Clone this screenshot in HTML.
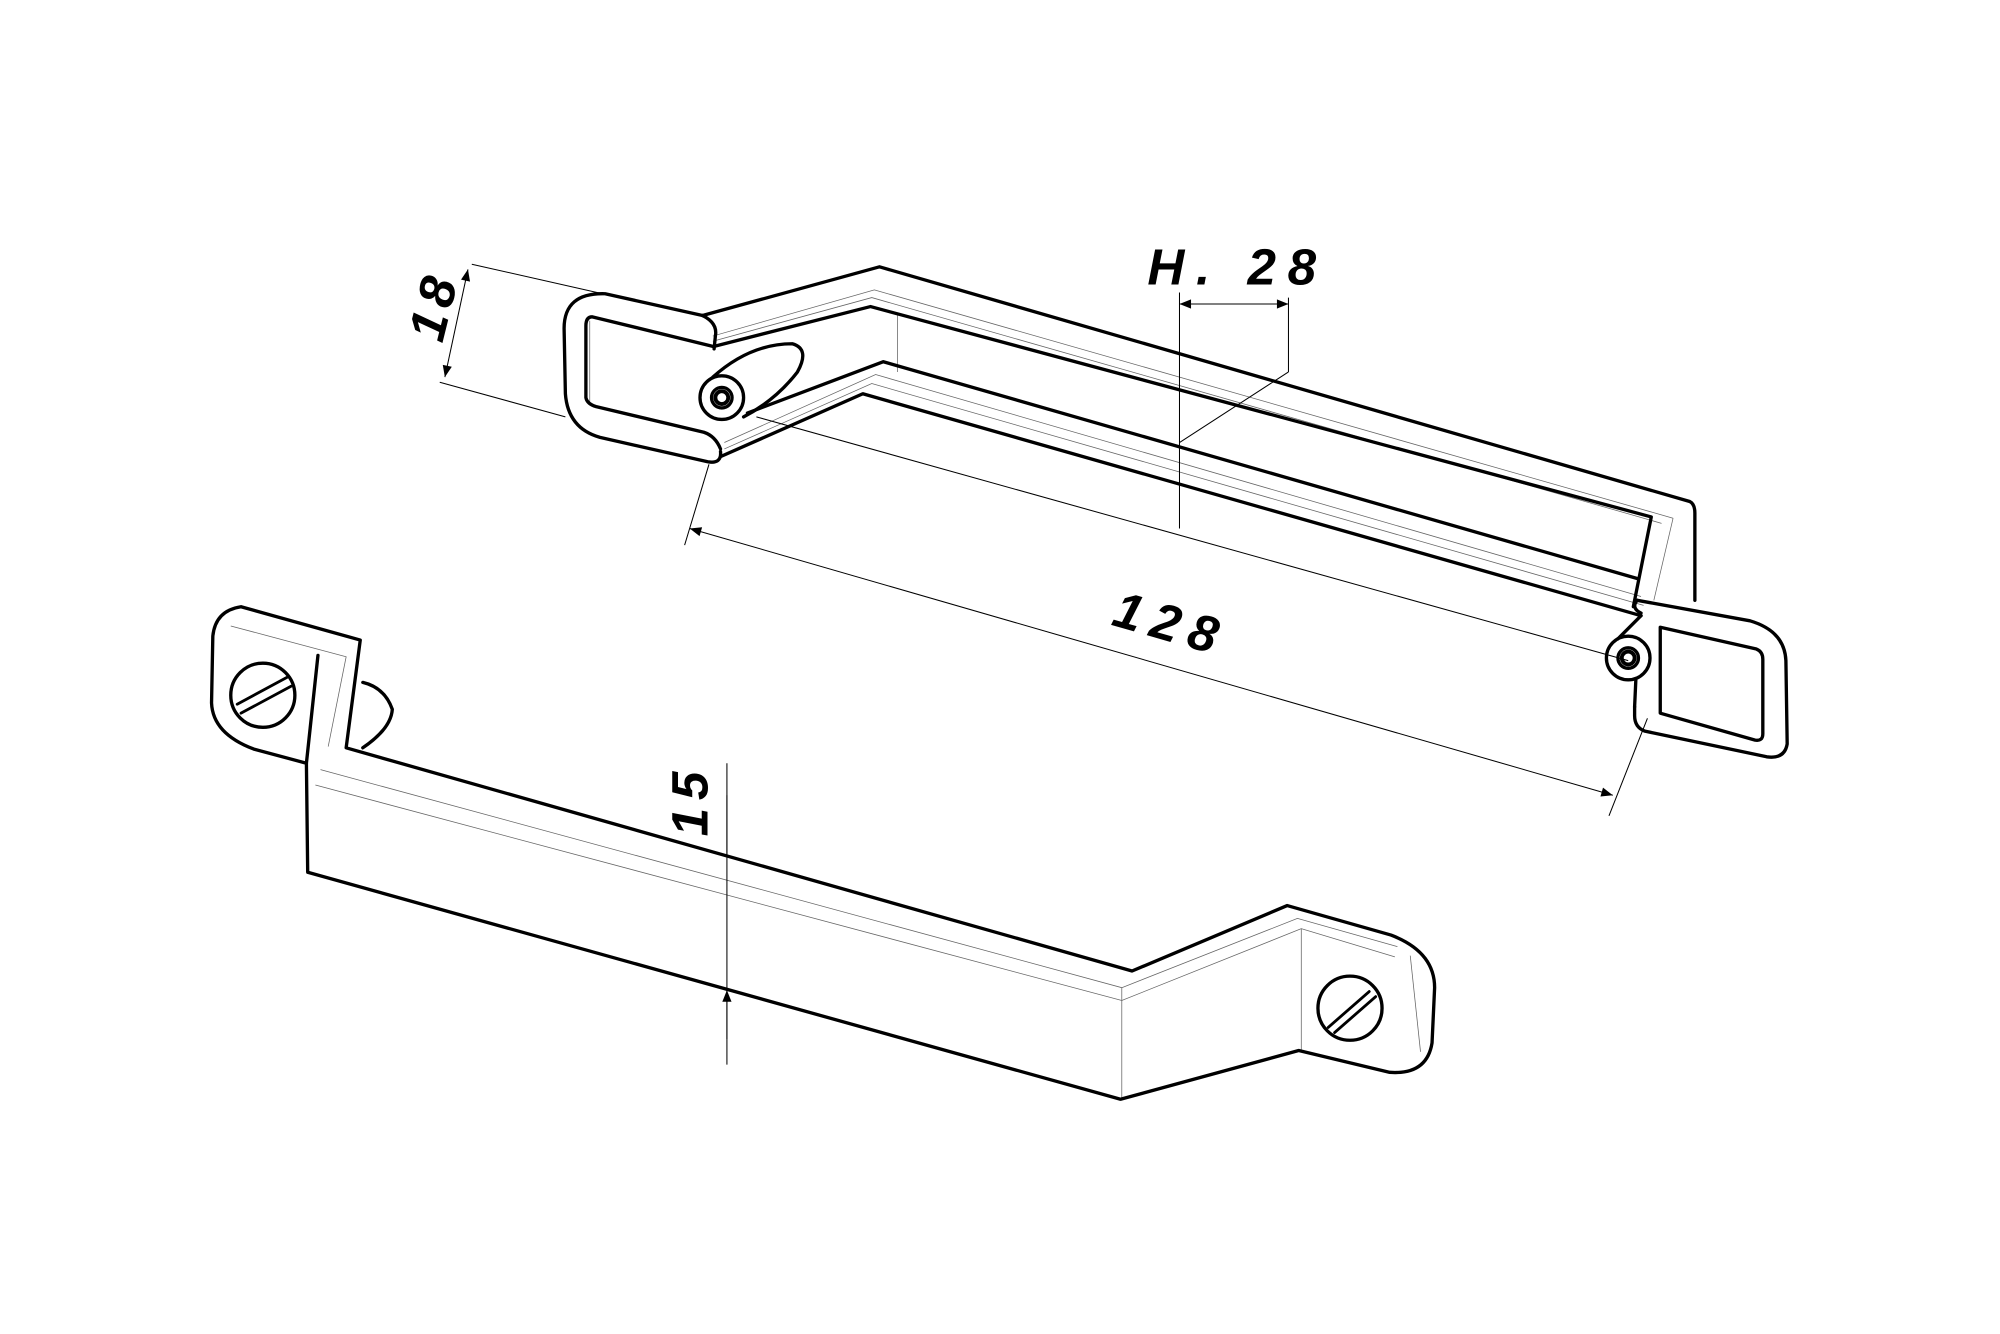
<!DOCTYPE html>
<html><head><meta charset="utf-8"><style>
html,body{margin:0;padding:0;background:#fff;width:2000px;height:1334px;overflow:hidden}
svg{display:block}
text{font-family:"Liberation Sans",sans-serif;font-weight:bold;font-style:italic;fill:#000}
</style></head><body>
<svg width="2000" height="1334" viewBox="0 0 1560 1040" preserveAspectRatio="none" xmlns="http://www.w3.org/2000/svg">
<defs>
<marker id="ar" viewBox="0 0 10 10" refX="10" refY="5" markerWidth="18" markerHeight="9" orient="auto-start-reverse" markerUnits="userSpaceOnUse"><path d="M0,1 L10,5 L0,9 Z" fill="#000"/></marker>
</defs>
<g fill="none" stroke="#000" stroke-width="0.6" opacity="0.6">
<path d="M556,262 L682,226 L1305,404"/>
<path d="M556,266 L680,232 L1296,408"/>
<path d="M700,245 L700,290"/>
<path d="M565,345 L683,292 L1280,465"/>
<path d="M565,350 L680,299 L1282,472"/>
<path d="M1305,404 L1290,468"/>
<path d="M460,250 L460,316"/>
<path d="M250,600 L875,770 L1012,716 L1090,738"/>
<path d="M246,612 L875,780 L1015,724 L1088,746"/>
<path d="M875,770 L875,857 M1015,724 L1015,819"/>
<path d="M1100,745 L1108,820"/>
<path d="M180,488 L270,512 L256,582"/>
</g>
<g fill="none" stroke="#000" stroke-width="2.6" stroke-linejoin="round" stroke-linecap="round">
<path d="M548,246 L686,208 L1318,391 Q1322,393 1322,400 L1322,468"/>
<path d="M557,270 L679,239 L1288,403 L1274,473"/>
<path d="M583,322 L689,282 L1277,451"/>
<path d="M562,356 L673,307 L1280,480"/>
<path d="M548,246 L472,229 Q440,228 440,256 L441,307 Q443,334 468,341 L552,360 Q563,362 562,352"/>
<path d="M548,246 Q560,252 558,262 L557,272"/>
<path d="M556,270 L462,247 Q457,247 457,254 L457,310 Q458,315 465,317 L549,337 Q558,340 562,350"/>
<path d="M1277,468 L1365,484 Q1392,492 1393,515 L1394,580 Q1392,592 1378,590 L1283,570 Q1275,567 1275,558 L1275,551"/>
<path d="M1277,468 Q1272,474 1280,478"/>
<path d="M1295,489 L1370,506 Q1375,508 1375,514 L1375,572 Q1375,578 1369,577 L1295,556 Z"/>
<circle cx="563" cy="310" r="17"/><circle cx="563" cy="310" r="8"/><circle cx="563" cy="310" r="5" stroke-width="3"/>
<path d="M556,294 Q585,268 618,268 Q632,272 622,290 Q605,312 580,325"/>
<circle cx="1270" cy="513" r="17"/><circle cx="1270" cy="513" r="8"/><circle cx="1270" cy="513" r="5" stroke-width="3"/>
<path d="M1262,498 L1280,480 M1276,529 L1275,551"/>
<path d="M281,499 L270,583 L883,757 L1004,706 L1085,729 Q1119,742 1119,770 L1117,813 Q1113,838 1084,836 L1013,819 L874,857 L240,680 L239,595 L198,584 Q166,572 165,548 L166,496 Q168,476 188,473 Z"/>
<path d="M248,511 L239,595"/>
<circle cx="205" cy="542" r="25"/><path d="M185,549 L224,528 M188,556 L227,535" stroke-width="2.2"/>
<circle cx="1053" cy="786" r="25"/><path d="M1036,801 L1068,773 M1041,805 L1073,777" stroke-width="2.2"/>
<path d="M283,532 Q300,536 306,553 Q305,568 283,583"/>
</g>
<g stroke="#000" stroke-width="0.8" fill="none">
<path d="M368,206 L470,229 M343,298 L441,325"/>
<path d="M365,210 L347,294" marker-start="url(#ar)" marker-end="url(#ar)"/>
<path d="M920,228 L920,412 M1005,232 L1005,290 M1005,290 L920,345"/>
<path d="M920,237 L1005,237" marker-start="url(#ar)" marker-end="url(#ar)"/>
<path d="M534,425 L553,362 M1255,636 L1285,560"/>
<path d="M538,412 L1258,620" marker-start="url(#ar)" marker-end="url(#ar)"/>
<path d="M590,325 L1270,515"/>
<path d="M567,595 L567,830"/>
<path d="M567,620 L567,667 M567,810 L567,772" marker-end="url(#ar)"/>
</g>
<text x="0" y="0" font-size="40" letter-spacing="5" transform="translate(345,268) rotate(-76)">18</text>
<text x="895" y="222" font-size="40" letter-spacing="9">H. 28</text>
<text x="0" y="0" font-size="40" letter-spacing="8" transform="translate(866,487) rotate(16)">128</text>
<text x="0" y="0" font-size="40" letter-spacing="6" transform="translate(552,652) rotate(-90)">15</text>
</svg>
</body></html>
